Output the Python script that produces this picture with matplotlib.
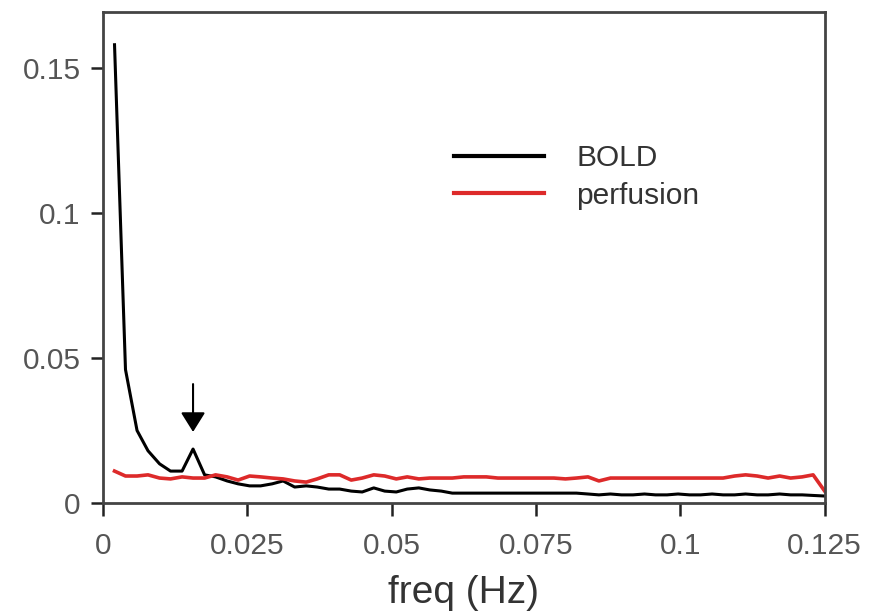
import matplotlib
matplotlib.use('Agg')
import matplotlib.pyplot as plt

plt.rcParams['font.family'] = ['Liberation Sans', 'DejaVu Sans']

# frequency bins (Hz)
freq = [0.0020, 0.0039, 0.0059, 0.0078, 0.0098, 0.0117, 0.0137, 0.0156,
        0.0176, 0.0195, 0.0215, 0.0234, 0.0254, 0.0273, 0.0293, 0.0312,
        0.0332, 0.0352, 0.0371, 0.0391, 0.0410, 0.0430, 0.0449, 0.0469,
        0.0488, 0.0508, 0.0527, 0.0547, 0.0566, 0.0586, 0.0605, 0.0625,
        0.0645, 0.0664, 0.0684, 0.0703, 0.0723, 0.0742, 0.0762, 0.0781,
        0.0801, 0.0820, 0.0840, 0.0859, 0.0879, 0.0898, 0.0918, 0.0938,
        0.0957, 0.0977, 0.0996, 0.1016, 0.1035, 0.1055, 0.1074, 0.1094,
        0.1113, 0.1133, 0.1152, 0.1172, 0.1191, 0.1211, 0.1230, 0.1250]

bold = [0.158, 0.046, 0.025, 0.018, 0.0135, 0.011, 0.011, 0.0186,
        0.0097, 0.009, 0.0076, 0.0066, 0.0059, 0.0059, 0.0066, 0.0076,
        0.0055, 0.0059, 0.0055, 0.0048, 0.0048, 0.0041, 0.0038, 0.0052,
        0.0041, 0.0038, 0.0048, 0.0052, 0.0045, 0.0041, 0.0034, 0.0034,
        0.0034, 0.0034, 0.0034, 0.0034, 0.0034, 0.0034, 0.0034, 0.0034,
        0.0034, 0.0034, 0.0031, 0.0028, 0.0031, 0.0028, 0.0028, 0.0031,
        0.0028, 0.0028, 0.0031, 0.0028, 0.0028, 0.0031, 0.0028, 0.0028,
        0.0031, 0.0028, 0.0028, 0.0031, 0.0028, 0.0028, 0.0026, 0.0024]

perfusion = [0.011, 0.0093, 0.0093, 0.0097, 0.0086, 0.0083, 0.009, 0.0086,
             0.0086, 0.0097, 0.009, 0.0079, 0.0093, 0.009, 0.0086, 0.0083,
             0.0076, 0.0072, 0.0083, 0.0097, 0.0097, 0.0079, 0.0086, 0.0097,
             0.0093, 0.0083, 0.009, 0.0083, 0.0086, 0.0086, 0.0086, 0.009,
             0.009, 0.009, 0.0086, 0.0086, 0.0086, 0.0086, 0.0086, 0.0086,
             0.0083, 0.0086, 0.009, 0.0076, 0.0086, 0.0086, 0.0086, 0.0086,
             0.0086, 0.0086, 0.0086, 0.0086, 0.0086, 0.0086, 0.0086, 0.0093,
             0.0097, 0.0093, 0.0086, 0.0093, 0.0086, 0.009, 0.0097, 0.0041]

xticks = [0, 0.025, 0.05, 0.075, 0.1, 0.125]
xtick_labels = ['0', '0.025', '0.05', '0.075', '0.1', '0.125']
yticks = [0, 0.05, 0.1, 0.15]
ytick_labels = ['0', '0.05', '0.1', '0.15']

peak_freq = 0.0156

fig = plt.figure(figsize=(8.69, 6.14), dpi=100)
ax = fig.add_axes([0.1185, 0.1808, 0.8305, 0.7997])

ax.plot(freq, bold, color='black', lw=2.2, label='BOLD')
ax.plot(freq, perfusion, color='#dd2a2a', lw=2.6, label='perfusion')

# arrow pointing at the peak
ax.annotate('', xy=(peak_freq, 0.0245), xytext=(peak_freq, 0.041),
            arrowprops=dict(arrowstyle='-|>,head_length=0.4,head_width=0.25',
                            color='black', lw=1.5, mutation_scale=30,
                            shrinkA=0, shrinkB=0))

ax.set_xlim(0, 0.125)
ax.set_ylim(0, 0.1693)
ax.set_xticks(xticks)
ax.set_xticklabels(xtick_labels)
ax.set_yticks(yticks)
ax.set_yticklabels(ytick_labels)

for s in ax.spines.values():
    s.set_color('#444444')
    s.set_linewidth(2)

ax.tick_params(axis='both', direction='out', length=9, width=1.8,
               color='#222222', labelcolor='#555555', labelsize=21.5)
ax.tick_params(axis='x', pad=12)
ax.tick_params(axis='y', pad=7)

ax.set_xlabel('freq (Hz)', fontsize=28, color='#333333', labelpad=11)

leg = ax.legend(loc='upper left', bbox_to_anchor=(454 / 869, 1 - 144 / 614),
                bbox_transform=fig.transFigure, frameon=False, fontsize=21.5,
                handlelength=3.0, handletextpad=1.1, borderpad=0,
                borderaxespad=0, labelspacing=0.32, labelcolor='#333333')
for h in leg.get_lines():
    h.set_linewidth(3)

fig.savefig('out.png', dpi=100, facecolor='white')
